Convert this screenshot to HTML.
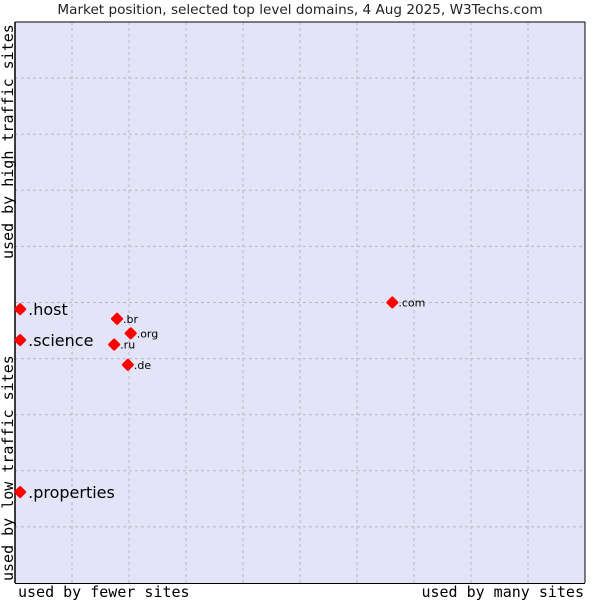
<!DOCTYPE html>
<html><head><meta charset="utf-8"><style>
html,body{margin:0;padding:0;background:#fff;}
svg{display:block;}
</style></head><body>
<svg id="chart" width="600" height="600" xmlns="http://www.w3.org/2000/svg">
<text x="300" y="14" text-anchor="middle" font-family="DejaVu Sans, sans-serif" font-size="13.6" fill="#222">Market position, selected top level domains, 4 Aug 2025, W3Techs.com</text>
<rect x="15" y="22" width="570" height="561" fill="#e3e4f8"/>
<g id="grid"></g>
<line x1="15" y1="22" x2="15" y2="583" stroke="#000" stroke-width="1.5"/>
<line x1="15" y1="583.5" x2="585" y2="583.5" stroke="#000" stroke-width="1"/>
<line x1="585" y1="22" x2="585" y2="583" stroke="#000" stroke-width="1"/>
<line x1="15" y1="22" x2="585" y2="22" stroke="#000" stroke-width="1"/>
<g id="points"></g>
<text x="18" y="597" font-family="DejaVu Sans Mono, monospace" font-size="15" fill="#000">used by fewer sites</text>
<text x="584" y="597" text-anchor="end" font-family="DejaVu Sans Mono, monospace" font-size="15" fill="#000">used by many sites</text>
<text transform="translate(13,581) rotate(-90)" font-family="DejaVu Sans Mono, monospace" font-size="15" fill="#000">used by low traffic sites</text>
<text transform="translate(13,259) rotate(-90)" font-family="DejaVu Sans Mono, monospace" font-size="15" fill="#000">used by high traffic sites</text>
</svg>
<script>
const labels = [".host", ".science", ".properties", ".br", ".org", ".ru", ".de", ".com"];
const xValues = [0.9, 0.9, 0.9, 17.9, 20.3, 17.4, 19.8, 66.2];
const yValues = [48.8, 43.3, 16.2, 47.1, 44.5, 42.5, 38.9, 50.0];
const bigLabel = [true, true, true, false, false, false, false, false];

const NS = "http://www.w3.org/2000/svg";
const X0 = 15, X1 = 585, Y0 = 583, Y1 = 22;
function sx(v){ return X0 + (X1 - X0) * v / 100; }
function sy(v){ return Y0 - (Y0 - Y1) * v / 100; }

const grid = document.getElementById("grid");
for (let i = 1; i < 10; i++) {
  const vl = document.createElementNS(NS, "line");
  
  
  vl.setAttribute("x1", sx(i*10)); vl.setAttribute("x2", sx(i*10));
  vl.setAttribute("y1", Y1); vl.setAttribute("y2", Y0);
  vl.setAttribute("stroke", "#b8b8c0"); vl.setAttribute("stroke-dasharray", "3,3");
  grid.appendChild(vl);
  const hl = document.createElementNS(NS, "line");
  
  
  hl.setAttribute("x1", X0); hl.setAttribute("x2", X1);
  hl.setAttribute("y1", sy(i*10)); hl.setAttribute("y2", sy(i*10));
  hl.setAttribute("stroke", "#b8b8c0"); hl.setAttribute("stroke-dasharray", "3,3");
  grid.appendChild(hl);
}

const pts = document.getElementById("points");
for (let i = 0; i < labels.length; i++) {
  const cx = sx(xValues[i]), cy = sy(yValues[i]);
  const g = document.createElementNS(NS, "g");
  
  
  const m = document.createElementNS(NS, "polygon");
  
  
  const r = 4.5;
  m.setAttribute("points", `${cx},${cy-r} ${cx+r},${cy} ${cx},${cy+r} ${cx-r},${cy}`);
  m.setAttribute("fill", "#ff0000");
  m.setAttribute("stroke", "#ff0000");
  m.setAttribute("stroke-width", "3");
  m.setAttribute("stroke-linejoin", "round");
  g.appendChild(m);
  const t = document.createElementNS(NS, "text");
  
  
  t.setAttribute("font-family", "DejaVu Sans, sans-serif");
  if (bigLabel[i]) {
    t.setAttribute("x", cx + 8); t.setAttribute("y", cy + 6);
    t.setAttribute("font-size", "16");
  } else {
    t.setAttribute("x", cx + 6); t.setAttribute("y", cy + 4);
    t.setAttribute("font-size", "11");
  }
  t.setAttribute("fill", "#000");
  t.textContent = labels[i];
  g.appendChild(t);
  pts.appendChild(g);
}
</script>
</body></html>
